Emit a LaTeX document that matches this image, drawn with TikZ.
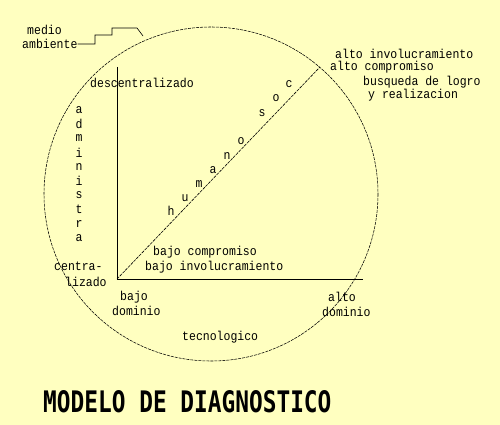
\documentclass[tikz,border=0pt]{standalone}
\usepackage{graphicx}
\usepackage{fontspec}
\setmonofont{Liberation Mono}
\newfontfamily\titlefont{DejaVu Sans Mono}
\definecolor{bgyellow}{RGB}{255,255,192}
\newcommand{\tx}[1]{\scalebox{1}[1.12]{\ttfamily\fontsize{11.5}{12}\selectfont #1}}
\begin{document}
\begin{tikzpicture}[x=1pt,y=-1pt,
  lbl/.style={inner sep=0pt,anchor=west},
  ltr/.style={inner sep=0pt},
  axis/.style={line width=0.7pt,black},
  rim/.style={line width=0.55pt,black,dash pattern=on 3pt off 1pt},
  diag/.style={line width=0.6pt,black,dash pattern=on 3pt off 1pt}]
\fill[bgyellow] (0,0) rectangle (500,425);
\useasboundingbox (0,0) rectangle (500,425);
% circle
\coordinate (ctr) at (211,194);
\draw[rim] (ctr) circle (167);
% axes
\coordinate (org) at (117,279);
\coordinate (ytop) at (117,67);
\coordinate (xend) at (363,279);
\coordinate (dend) at (320,67);
\draw[axis] (ytop) -- (org) -- (xend);
\draw[diag] (org) -- (dend);
% medio ambiente
\node[lbl] (med) at (27,30) {\tx{medio}};
\node[lbl] (amb) at (22,44) {\tx{ambiente}};
\coordinate (touch) at (143,36);
\draw[line width=0.6pt] (amb.east) -- (95,44) -- (95,35) -- (112,35) -- (112,28) -- (137,28) -- (touch);
% labels
\node[lbl] (desc) at (90,83) {\tx{descentralizado}};
\node[lbl] (cen1) at (54,266) {\tx{centra-}};
\node[lbl] (cen2) at (65,282) {\tx{lizado}};
\node[lbl] (bc) at (153,252) {\tx{bajo compromiso}};
\node[lbl] (bi) at (145,267) {\tx{bajo involucramiento}};
\node[lbl] (bd1) at (120,297) {\tx{bajo}};
\node[lbl] (bd2) at (112,311) {\tx{dominio}};
\node[lbl] (ad1) at (328,297) {\tx{alto}};
\node[lbl] (ad2) at (322,312) {\tx{dominio}};
\node[lbl] (tec) at (182,337) {\tx{tecnologico}};
\node[lbl] (ai) at (335,54) {\tx{alto involucramiento}};
\node[lbl] (ac) at (330,67) {\tx{alto compromiso}};
\node[lbl] (bl) at (363,82) {\tx{busqueda de logro}};
\node[lbl] (yr) at (368,95) {\tx{y realizacion}};
% administra
\foreach \c [count=\i] in {a,d,m,i,n,i,s,t,r,a}
  \node[ltr] (adm\i) at (79,{110+(\i-1)*14.2}) {\tx{\c}};
% humano soc
\node[ltr] (h1) at (171,211) {\tx{h}};
\node[ltr] (h2) at (185,198) {\tx{u}};
\node[ltr] (h3) at (199,184) {\tx{m}};
\node[ltr] (h4) at (213,170) {\tx{a}};
\node[ltr] (h5) at (227,156) {\tx{n}};
\node[ltr] (h6) at (241,141) {\tx{o}};
\node[ltr] (h7) at (262,113) {\tx{s}};
\node[ltr] (h8) at (276,98) {\tx{o}};
\node[ltr] (h9) at (289,84) {\tx{c}};
% title
\node[inner sep=0pt,anchor=west] (title) at (43,402)
  {\scalebox{1}[1.3]{\titlefont\bfseries\fontsize{22.8}{24}\selectfont MODELO DE DIAGNOSTICO}};
\end{tikzpicture}
\end{document}
